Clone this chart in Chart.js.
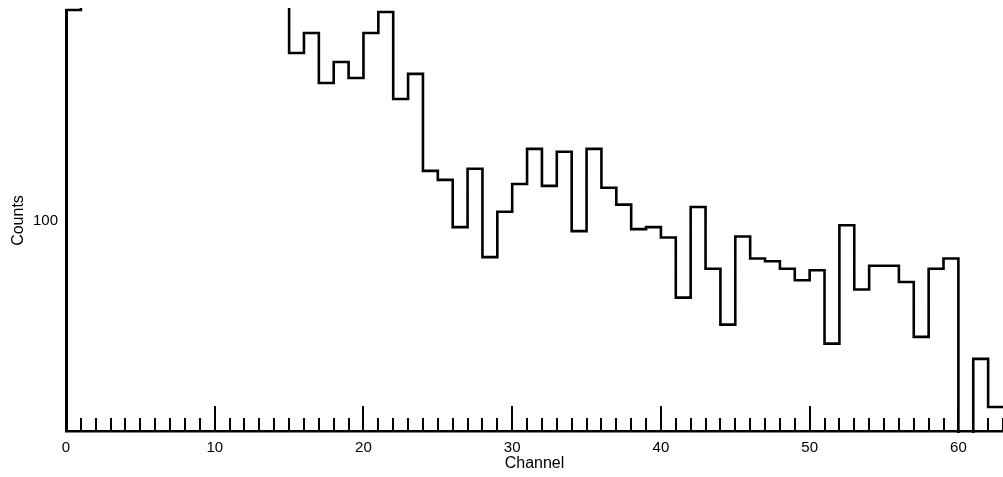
<!DOCTYPE html>
<html>
<head>
<meta charset="utf-8">
<script src="https://cdn.jsdelivr.net/npm/chart.js@4/dist/chart.umd.min.js"></script>
<style>
    html, body { margin: 0; padding: 0; background: #fff; }
    #wrap { width: 1003px; height: 477px; position: relative; }
</style>
</head>
<body>
<div id="wrap"><canvas id="histChart"></canvas></div>
<script>
// channel = lower edge of each bin, counts = bin contents
const channels = [0, 1, 2, 3, 4, 5, 6, 7, 8, 9, 10, 11, 12, 13, 14, 15, 16, 17, 18, 19,
    20, 21, 22, 23, 24, 25, 26, 27, 28, 29, 30, 31, 32, 33, 34, 35, 36, 37, 38, 39,
    40, 41, 42, 43, 44, 45, 46, 47, 48, 49, 50, 51, 52, 53, 54, 55, 56, 57, 58, 59,
    60, 61, 62];
const counts = [1000, 1450, 1600, 1720, 1580, 1650, 1800, 1500, 1400, 1550, 1300, 1250, 1200, 1150, 1100,
    625, 778, 450, 566, 475, 778, 978, 378, 497,
    172, 156, 93, 176, 67, 110, 149, 219, 146, 212, 89, 219, 143, 119, 91, 93,
    83, 43, 116, 59, 32, 84, 66, 64, 59, 52, 58, 26, 95, 47, 61, 61, 51, 28, 59, 66,
    1, 22, 13];
const lastEdge = 63;
const xTickLabels = ['0', '10', '20', '30', '40', '50', '60'];
const yTickLabels = ['100'];

const points = channels.map((c, i) => ({ x: c, y: counts[i] }));
points.push({ x: lastEdge, y: counts[counts.length - 1] });

const tickFont = { family: 'Liberation Sans', size: 15 };
const titleFont = { family: 'Liberation Sans', size: 16 };

// ticks drawn inward from the x axis, longer every 10 channels
const innerTicks = {
    id: 'innerTicks',
    afterDatasetsDraw(chart) {
        const { ctx, chartArea } = chart;
        const x = chart.scales.x;
        ctx.save();
        ctx.strokeStyle = '#000';
        ctx.lineWidth = 2;
        for (let c = 1; c <= lastEdge; c++) {
            const px = Math.round(x.getPixelForValue(c));
            const len = c % 10 === 0 ? 25 : 13;
            ctx.beginPath();
            ctx.moveTo(px, chartArea.bottom);
            ctx.lineTo(px, chartArea.bottom - len);
            ctx.stroke();
        }
        ctx.restore();
    }
};

const ctx = document.getElementById('histChart').getContext('2d');
new Chart(ctx, {
    type: 'line',
    data: {
        datasets: [{
            data: points,
            stepped: 'before',
            borderColor: '#000',
            borderWidth: 2.6,
            pointRadius: 0,
            fill: false,
            clip: { left: 0, top: 2, right: 0, bottom: 2 }
        }]
    },
    options: {
        responsive: true,
        maintainAspectRatio: false,
        animation: false,
        layout: { padding: { top: 10, right: 0, bottom: 0, left: 0 } },
        plugins: { legend: { display: false }, tooltip: { enabled: false } },
        scales: {
            x: {
                type: 'linear',
                min: 0,
                max: lastEdge,
                afterFit: s => { s.height = 46; s.paddingRight = 0; },
                grid: { drawOnChartArea: false, drawTicks: false },
                border: { display: true, color: '#000', width: 2.5 },
                ticks: {
                    stepSize: 10,
                    includeBounds: false,
                    autoSkip: false,
                    maxRotation: 0,
                    padding: 8,
                    color: '#000',
                    font: tickFont,
                    callback: v => xTickLabels.includes(String(v)) ? String(v) : null
                },
                title: { display: true, text: 'Channel', color: '#000', font: titleFont, padding: { top: 0, bottom: 4 } }
            },
            y: {
                type: 'logarithmic',
                min: 10,
                max: 1000,
                afterFit: s => { s.width = 66; s.paddingTop = 0; s.paddingBottom = 0; },
                grid: { drawOnChartArea: false, drawTicks: false },
                border: { display: true, color: '#000', width: 3 },
                ticks: {
                    autoSkip: false,
                    padding: 8,
                    color: '#000',
                    font: tickFont,
                    callback: v => yTickLabels.includes(String(v)) ? String(v) : null
                },
                title: { display: true, text: 'Counts', color: '#000', font: titleFont, padding: { top: 9, bottom: 0 } }
            }
        }
    },
    plugins: [innerTicks]
});
</script>
</body>
</html>
